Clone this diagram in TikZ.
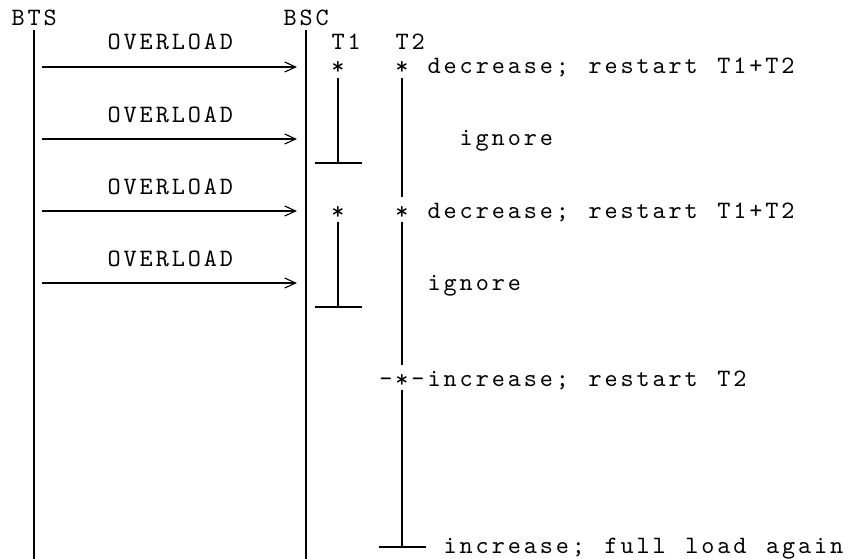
\documentclass[tikz,border=0pt]{standalone}
\usepackage{fontspec}
\usetikzlibrary{arrows.meta}
\newfontfamily\asciifont{lmmono10-regular}[Extension=.otf, LetterSpace=11.6, WordSpace=1.219]
\newfontfamily\glyphfont{lmmono10-regular}[Extension=.otf]

\begin{document}
\begin{tikzpicture}[x=1pt, y=-1pt,
  lbl/.style={font={\asciifont\fontsize{25pt}{25pt}\selectfont}, inner sep=0, anchor=base west},
  glyph/.style={font={\glyphfont\fontsize{25pt}{25pt}\selectfont}, inner sep=0, anchor=base},
  life/.style={line width=1.6pt},
  timer/.style={line width=1.3pt},
  msg/.style={line width=1.3pt, -{Straight Barb[length=11pt, width=10pt, line width=1.1pt]}}]
\useasboundingbox (0,0) rectangle (848,559);
\node[lbl] (bts) at (11.5,26) {BTS};
\node[lbl] (bsc) at (283.5,26) {BSC};
\node[lbl] (t1) at (331.5,50) {T1};
\node[lbl] (t2) at (395.5,50) {T2};
\coordinate (bts top) at (34,30);
\coordinate (bts bot) at (34,559);
\coordinate (bsc top) at (306,30);
\coordinate (bsc bot) at (306,559);
\draw[life] (bts top) -- (bts bot);
\draw[life] (bsc top) -- (bsc bot);
\foreach \y [count=\i] in {67,139,211,283} {
  \node[lbl] (ov\i) at (107.5,\y-17) {OVERLOAD};
  \coordinate (m\i a) at (42,\y);
  \coordinate (m\i b) at (297,\y);
  \draw[msg] (m\i a) -- (m\i b);
}
\node[glyph] (t1a) at (338,75) {*};
\node[glyph] (t2a) at (402,75) {*};
\node[glyph] (t1b) at (338,219) {*};
\node[glyph] (t2b) at (402,219) {*};
\node[glyph] (t2c) at (402,387) {*};
\node[glyph] (dl) at (386,386) {-};
\node[glyph] (dr) at (418,386) {-};
\node[lbl] (dec1) at (427.5,74) {decrease; restart T1+T2};
\node[lbl] (ign1) at (459.5,146) {ignore};
\node[lbl] (dec2) at (427.5,218) {decrease; restart T1+T2};
\node[lbl] (ign2) at (427.5,290) {ignore};
\node[lbl] (inc1) at (427.5,386) {increase; restart T2};
\node[lbl] (inc2) at (443.5,553) {increase; full load again};
\coordinate (t1a end) at (338,163);
\coordinate (t1b end) at (338,307);
\coordinate (t2 end) at (402,547);
\draw[timer] ([yshift=-3pt]t1a.base) -- (t1a end);
\draw[timer] ([xshift=-23pt]t1a end) -- ([xshift=24pt]t1a end);
\draw[timer] ([yshift=-3pt]t1b.base) -- (t1b end);
\draw[timer] ([xshift=-23pt]t1b end) -- ([xshift=24pt]t1b end);
\draw[timer] ([yshift=-3pt]t2a.base) -- ([yshift=22pt]t2b.base);
\draw[timer] ([yshift=-3pt]t2b.base) -- ([yshift=22pt]t2c.base);
\draw[timer] ([yshift=-3pt]t2c.base) -- (t2 end);
\draw[timer] ([xshift=-23pt]t2 end) -- ([xshift=24pt]t2 end);
\end{tikzpicture}
\end{document}
